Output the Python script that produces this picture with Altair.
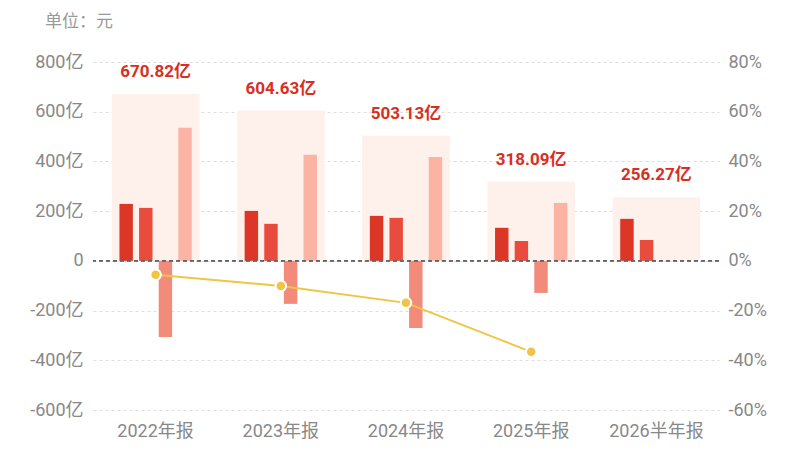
import altair as alt
import pandas as pd

categories = ["2022年报", "2023年报", "2024年报", "2025年报", "2026半年报"]
totals = [670.82, 604.63, 503.13, 318.09, 256.27]
total_labels = ["670.82亿", "604.63亿", "503.13亿", "318.09亿", "256.27亿"]
series_names = ["s1", "s2", "s3", "s4"]
s1 = [229, 201, 181, 133, 169]
s2 = [213, 149, 173, 80, 84]
s3 = [-306, -173, -270, -129, None]
s4 = [535, 427, 418, 233, None]
growth = [-5.6, -10.1, -16.9, -36.6, None]
colors = ["#DC3626", "#E94B3C", "#F28B7A", "#FBB4A4"]

FONT = "Roboto, 'Noto Sans CJK SC', sans-serif"

bg_df = pd.DataFrame({"cat": categories, "total": totals, "label": total_labels})
rows = []
for i, c in enumerate(categories):
    for name, arr in zip(series_names, [s1, s2, s3, s4]):
        if arr[i] is not None:
            rows.append({"cat": c, "series": name, "value": arr[i]})
bar_df = pd.DataFrame(rows)
line_df = pd.DataFrame({"cat": categories[:4], "growth": growth[:4]})

xscale = alt.Scale(domain=categories, paddingInner=0.3, paddingOuter=0.15)
xenc = alt.X("cat:N", scale=xscale, sort=categories,
             axis=alt.Axis(title=None, labelAngle=0, ticks=False, domain=False,
                           labelFontSize=18, labelColor="#888888", labelPadding=12,
                           labelFont=FONT, labelBaseline="top"))
yscale = alt.Scale(domain=[-600, 800], nice=False, zero=False)
yaxis = alt.Axis(title=None, values=[-600, -400, -200, 0, 200, 400, 600, 800],
                 labelExpr="datum.value == 0 ? '0' : datum.value + '亿'",
                 labelFontSize=18, labelColor="#888888", labelFont=FONT, labelPadding=10,
                 ticks=False, domain=False, grid=True, gridColor="#DDDDDD",
                 gridDash=[3, 3], gridWidth=1)

bg = alt.Chart(bg_df).mark_bar(color="#FEF0EB").encode(
    x=xenc, y=alt.Y("total:Q", scale=yscale, axis=yaxis))
txt = alt.Chart(bg_df).mark_text(color="#D92F22", fontSize=17, fontWeight="bold",
                                 baseline="bottom", dy=-13, font=FONT).encode(
    x=xenc, y=alt.Y("total:Q", scale=yscale), text="label:N")
bars = alt.Chart(bar_df).mark_bar().encode(
    x=xenc,
    xOffset=alt.XOffset("series:N", scale=alt.Scale(domain=series_names, paddingInner=0.315, paddingOuter=0.39)),
    y=alt.Y("value:Q", scale=yscale),
    color=alt.Color("series:N", scale=alt.Scale(domain=series_names, range=colors), legend=None))
zero = alt.Chart(bg_df).mark_rule(color="#666666", strokeDash=[4, 3], strokeWidth=1).encode(
    y=alt.datum(0))
unit = alt.Chart(pd.DataFrame({"t": ["单位：元"]})).mark_text(
    align="left", baseline="middle", fontSize=17, color="#999999", font=FONT).encode(
    x=alt.value(-48), y=alt.value(-40), text="t:N")

left = alt.layer(bg, txt, bars, zero, unit)

rscale = alt.Scale(domain=[-60, 80], nice=False, zero=False)
raxis = alt.Axis(title=None, orient="right", values=[-60, -40, -20, 0, 20, 40, 60, 80],
                 labelExpr="datum.value + '%'", labelFontSize=18, labelColor="#888888",
                 labelFont=FONT, labelPadding=9, ticks=False, domain=False, grid=False)
line = alt.Chart(line_df).mark_line(color="#F0C445", strokeWidth=2).encode(
    x=xenc, y=alt.Y("growth:Q", scale=rscale, axis=raxis))
pts = alt.Chart(line_df).mark_point(filled=True, color="#F0C445", size=110, opacity=1,
                                    stroke="white", strokeWidth=2).encode(
    x=xenc, y=alt.Y("growth:Q", scale=rscale))
right = alt.layer(line, pts)

chart = alt.layer(left, right).resolve_scale(y="independent").properties(
    width=626, height=348,
    autosize=alt.AutoSizeParams(type="none"),
    padding={"left": 85, "top": 54, "right": 68, "bottom": 30},
).configure_view(stroke=None)

chart.save("out.html", embed_options={"renderer": "svg", "actions": False})
